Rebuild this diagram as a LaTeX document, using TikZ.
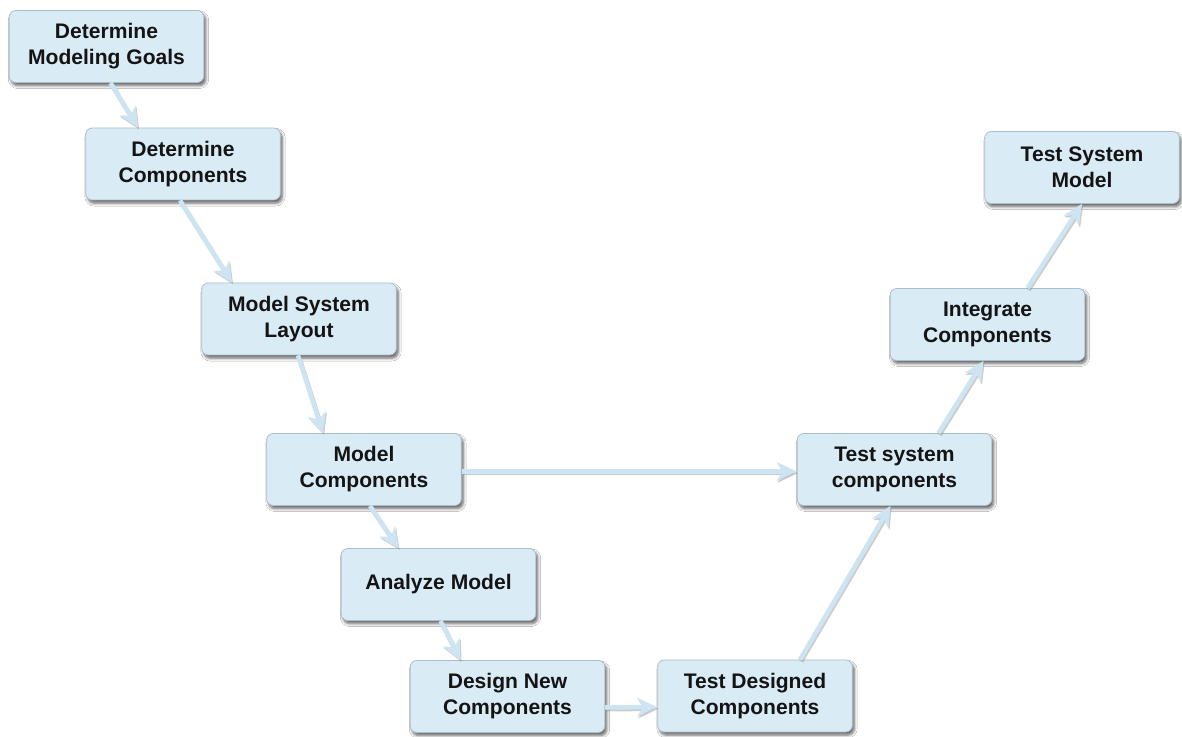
\documentclass[tikz,border=0pt]{standalone}
\usepackage{fontspec}
\setmainfont{Liberation Sans}
\usetikzlibrary{arrows.meta,shadows.blur,calc}
\definecolor{boxfill}{RGB}{217,235,245}
\definecolor{boxline}{RGB}{170,190,205}
\definecolor{arrowfill}{RGB}{205,228,242}
\definecolor{txt}{RGB}{20,20,20}
\tikzset{
  stepbox/.style={rectangle, rounded corners=5pt, fill=boxfill, draw=boxline, line width=0.6pt,
    minimum width=146pt, minimum height=54pt, inner sep=0pt, align=center,
    text=txt, font=\fontsize{15.8}{19.5}\selectfont\bfseries,
    blur shadow={shadow xshift=1.5pt, shadow yshift=-2.4pt, shadow blur steps=6, shadow opacity=60}},
  flow/.style={draw=arrowfill, line width=3.4pt,
    -{Stealth[length=15pt, width=14pt, inset=4.5pt, fill=arrowfill]},
    preaction={draw=black!50, opacity=0.4, line width=3.4pt,
      -{Stealth[length=15pt, width=14pt, inset=4.5pt]},
      transform canvas={shift={(0.8pt,-1.3pt)}}}}
}
\begin{document}
\begin{tikzpicture}[x=0.75pt,y=-0.75pt]
\fill[white] (0,0) rectangle (1182,737);
\useasboundingbox (0,0) rectangle (1182,737);

\node[stepbox] (goals)  at (106.5,46.5)  {Determine\\Modeling Goals};
\node[stepbox] (detc)   at (183,164) {Determine\\Components};
\node[stepbox] (layout) at (299,319) {Model System\\Layout};
\node[stepbox] (modc)   at (364,469.5)   {Model\\Components};
\node[stepbox] (anal)   at (438.5,584.5) {Analyze Model};
\node[stepbox] (design) at (507.5,696.5) {Design New\\Components};
\node[stepbox] (testd)  at (755,696) {Test Designed\\Components};
\node[stepbox] (tsc)    at (894.5,469.5) {Test system\\components};
\node[stepbox] (integ)  at (987.5,324.5) {Integrate\\Components};
\node[stepbox] (tsm)    at (1082,167.5)  {Test System\\Model};

\draw[flow] ([xshift=3pt]goals.south) -- ([xshift=-33.75pt]detc.north);
\draw[flow] ([xshift=-2.25pt]detc.south) -- ([xshift=-50.25pt]layout.north);
\draw[flow] ([xshift=-0.75pt]layout.south) -- ([xshift=-30.75pt]modc.north);
\draw[flow] ([xshift=4.5pt]modc.south) -- ([xshift=-30pt]anal.north);
\draw[flow] ([xshift=1.5pt]anal.south) -- ([xshift=-35.25pt]design.north);
\draw[flow] ([yshift=-8.25pt]design.east) -- ([yshift=-8.25pt]testd.west);
\draw[flow] ([xshift=33.75pt]testd.north) -- ([xshift=-3pt]tsc.south);
\draw[flow] ([xshift=33pt]tsc.north) -- ([xshift=-3pt]integ.south);
\draw[flow] ([xshift=30pt]integ.north) -- ([xshift=0pt]tsm.south);
\draw[flow] ([yshift=-1.5pt]modc.east) -- ([yshift=-1.5pt]tsc.west);
\end{tikzpicture}
\end{document}
